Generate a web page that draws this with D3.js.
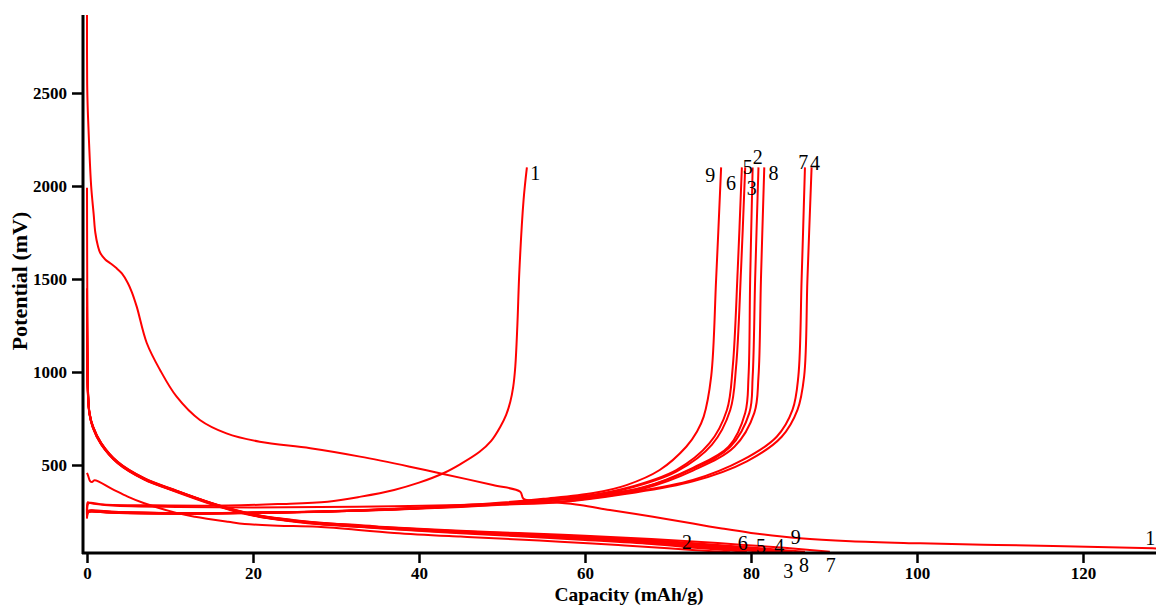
<!DOCTYPE html>
<html>
<head>
<meta charset="utf-8">
<script src="https://cdn.jsdelivr.net/npm/d3@7"></script>
<style>
  html, body { margin: 0; padding: 0; background: #fff; }
  svg { display: block; }
</style>
</head>
<body>
<svg id="chart" width="1156" height="605"></svg>
<script>
// Galvanostatic discharge/charge profiles, cycles 1-9 (capacity in mAh/g, potential in mV)

const xTicks = [0, 20, 40, 60, 80, 100, 120];
const yTicks = [500, 1000, 1500, 2000, 2500];

// ---- discharge curves ----
const d1Cap = [0, 0.02, 0.1, 0.25, 0.5, 0.8, 1.0, 1.3, 1.6, 2.2, 2.8, 3.5, 4.2, 4.9, 5.4, 6.0, 7.2, 8.8, 10.8, 13.6, 16.8, 20.8, 26.9, 32.9, 38.9, 42.9, 48.9, 52.2, 52.6, 55, 59.4, 63, 68.2, 73, 76.3, 80, 85.9, 92, 100.4, 108, 116.4, 128.4, 134];
const d1mV  = [2920, 2550, 2400, 2230, 2000, 1850, 1750, 1680, 1640, 1605, 1585, 1560, 1530, 1480, 1430, 1350, 1156, 1011, 867, 742, 670, 625, 590, 545, 491, 452, 392, 356, 318, 305, 285, 258, 222, 185, 160, 135, 106, 90, 79, 71, 65, 52, 48];

const d2Cap = [0, 0.15, 0.35, 0.6, 0.9, 3, 4.9, 6.9, 11, 13, 17, 19, 23, 27.8, 37, 45, 52, 57, 64, 70, 74, 77.5];
const d2mV  = [457, 440, 415, 408, 418, 372, 330, 294, 240, 222, 195, 183, 174, 168, 135, 115, 100, 88, 70, 52, 40, 31];

const d3Cap = [0, 0.02, 0.06, 0.12, 0.3, 0.72, 1.7, 3.7, 6.9, 10.8, 15, 18, 21, 25, 28, 33, 37, 45, 52, 60, 68, 76, 81, 84.5];
const d3mV  = [1990, 1600, 1200, 903, 780, 706, 617, 515, 427, 360, 294, 254, 224, 200, 187, 172, 160, 141, 126, 110, 88, 62, 45, 32];

const d4Cap = [0, 0.02, 0.06, 0.12, 0.3, 0.72, 1.7, 3.7, 6.9, 10.8, 15, 18, 21, 25, 28, 33, 37, 45, 52, 60, 68, 76, 80, 83.5];
const d4mV  = [1300, 1150, 1000, 880, 775, 700, 612, 511, 423, 357, 291, 251, 221, 198, 185, 170, 158, 139, 124, 107, 85, 58, 44, 32];

const d5Cap = [0, 0.02, 0.06, 0.12, 0.3, 0.72, 1.7, 3.7, 6.9, 10.8, 15, 18, 21, 25, 28, 33, 37, 45, 52, 60, 68, 75, 79, 81.5];
const d5mV  = [1450, 1300, 1100, 890, 778, 703, 615, 513, 425, 358, 292, 252, 222, 197, 183, 168, 156, 136, 121, 102, 80, 55, 42, 32];

const d6Cap = [0, 0.02, 0.06, 0.12, 0.3, 0.72, 1.7, 3.7, 6.9, 10.8, 15, 18, 21, 25, 28, 33, 37, 45, 52, 60, 68, 74, 77.5, 79.5];
const d6mV  = [1200, 1080, 960, 870, 772, 698, 610, 509, 421, 355, 289, 249, 219, 195, 181, 166, 154, 133, 117, 97, 75, 52, 40, 32];

const d7Cap = [0, 0.02, 0.06, 0.12, 0.3, 0.72, 1.7, 3.7, 6.9, 10.8, 15, 18, 21, 25, 28, 33, 37, 45, 52, 60, 68, 76, 84, 89.5];
const d7mV  = [1350, 1200, 1050, 895, 780, 708, 620, 517, 429, 362, 296, 257, 227, 203, 190, 176, 164, 146, 134, 120, 102, 80, 55, 34];

const d8Cap = [0, 0.02, 0.06, 0.12, 0.3, 0.72, 1.7, 3.7, 6.9, 10.8, 15, 18, 21, 25, 28, 33, 37, 45, 52, 60, 68, 76, 82, 86.5];
const d8mV  = [1250, 1120, 990, 885, 778, 706, 618, 516, 428, 361, 295, 256, 226, 202, 189, 174, 162, 144, 131, 115, 95, 70, 50, 33];

const d9Cap = [0, 0.02, 0.06, 0.12, 0.3, 0.72, 1.7, 3.7, 6.9, 10.8, 15, 18, 21, 25, 28, 33, 37, 45, 52, 60, 68, 76, 81.5, 85];
const d9mV  = [1150, 1050, 950, 875, 774, 702, 614, 512, 424, 359, 293, 253, 223, 199, 186, 172, 161, 142, 128, 112, 92, 66, 47, 33];

// ---- charge curves ----
const c1Cap = [0, 0.15, 0.4, 2, 8, 17, 23, 29, 33, 37, 40, 43, 45, 47.3, 48.7, 49.8, 50.5, 51.0, 51.35, 51.6, 51.85, 52.1, 52.6, 53];
const c1mV  = [235, 292, 297, 288, 283, 282, 290, 303, 330, 366, 405, 457, 505, 571, 630, 706, 770, 840, 920, 1028, 1250, 1550, 1925, 2100];

const c2Cap = [0, 0.1, 0.4, 3, 11, 20, 28, 37, 45, 50, 55, 61, 67, 73, 77.5, 79.8, 80.2, 80.5, 80.9];
const c2mV  = [220, 250, 254, 247, 241, 244, 250, 263, 279, 292, 309, 332, 378, 480, 598, 780, 975, 1500, 2100];

const c3Cap = [0, 0.1, 0.4, 3, 11, 20, 28, 37, 45, 50, 55, 61, 67, 73, 77.3, 79.3, 79.7, 79.9, 80.2];
const c3mV  = [218, 248, 252, 246, 240, 243, 249, 262, 278, 291, 310, 335, 380, 485, 598, 780, 975, 1500, 2100];

const c4Cap = [0, 0.1, 0.4, 3, 11, 20, 28, 37, 45, 50, 57, 65, 73, 79.5, 83.7, 85.6, 86.4, 86.8, 87.3];
const c4mV  = [225, 252, 256, 249, 242, 244, 249, 260, 274, 286, 300, 345, 412, 520, 652, 796, 975, 1500, 2100];

const c5Cap = [0, 0.1, 0.4, 3, 11, 20, 28, 37, 45, 50, 55, 61, 65, 71, 75.3, 77.5, 78.2, 78.8, 79.3];
const c5mV  = [216, 247, 251, 245, 239, 242, 248, 262, 279, 293, 312, 338, 372, 465, 610, 796, 1028, 1550, 2100];

const c6Cap = [0, 0.1, 0.4, 3, 11, 20, 28, 37, 45, 50, 55, 61, 65, 71, 75, 77.1, 77.8, 78.4, 78.9];
const c6mV  = [214, 246, 250, 244, 238, 242, 248, 263, 280, 294, 314, 340, 376, 473, 617, 796, 1028, 1550, 2100];

const c7Cap = [0, 0.1, 0.4, 3, 11, 20, 28, 37, 45, 50, 57, 65, 73, 79, 83.1, 85, 85.7, 86.1, 86.5];
const c7mV  = [228, 300, 295, 282, 274, 272, 274, 278, 285, 292, 303, 349, 419, 527, 652, 796, 975, 1500, 2100];

const c8Cap = [0, 0.1, 0.4, 3, 11, 20, 28, 37, 45, 50, 55, 61, 67, 73, 78, 80.4, 80.9, 81.2, 81.6];
const c8mV  = [222, 251, 255, 248, 241, 244, 249, 261, 277, 289, 306, 328, 372, 470, 598, 780, 975, 1500, 2100];

const c9Cap = [0, 0.1, 0.4, 3, 11, 20, 28, 37, 45, 50, 55, 61, 65, 69, 72.2, 73.5, 74.3, 75.2, 75.8, 76.4];
const c9mV  = [212, 245, 249, 243, 238, 243, 250, 265, 283, 298, 318, 349, 392, 473, 598, 680, 760, 975, 1500, 2100];

// Cycle number annotations (capacity, potential of the text centre)
const labelCycles = ["1", "9", "6", "5", "2", "3", "8", "7", "4", "2", "6", "5", "4", "9", "3", "8", "7", "1"];
const labelCap    = [54.0, 75.1, 77.6, 79.6, 80.8, 80.1, 82.7, 86.3, 87.7, 72.3, 79.0, 81.2, 83.4, 85.4, 84.5, 86.4, 89.6, 128.1];
const labelmV     = [2070, 2059, 2016, 2102, 2156, 1989, 2070, 2129, 2124, 86, 80, 64, 64, 113, -70, -38, -38, 107];

const series = [
  [d1Cap, d1mV], [d2Cap, d2mV], [d3Cap, d3mV], [d4Cap, d4mV], [d5Cap, d5mV],
  [d6Cap, d6mV], [d7Cap, d7mV], [d8Cap, d8mV], [d9Cap, d9mV],
  [c1Cap, c1mV], [c2Cap, c2mV], [c3Cap, c3mV], [c4Cap, c4mV], [c5Cap, c5mV],
  [c6Cap, c6mV], [c7Cap, c7mV], [c8Cap, c8mV], [c9Cap, c9mV]
];

const svg = d3.select("#chart");
const serif = "'Liberation Serif', 'Times New Roman', serif";

const x = d3.scaleLinear().domain([0, 120]).range([87, 1083]);
const y = d3.scaleLinear().domain([0, 2500]).range([558, 93]);

const plotLeft = 83, plotRight = 1156, plotTop = 15, plotBottom = 553;

svg.append("defs").append("clipPath").attr("id", "plot")
  .append("rect")
  .attr("x", plotLeft).attr("y", plotTop - 2)
  .attr("width", plotRight - plotLeft).attr("height", plotBottom - plotTop + 2);

const line = d3.line()
  .x(d => x(d[0]))
  .y(d => y(d[1]))
  .curve(d3.curveCatmullRom.alpha(0.5));

svg.append("g").attr("clip-path", "url(#plot)")
  .selectAll("path")
  .data(series.map(([c, v]) => c.map((cap, i) => [cap, v[i]])))
  .join("path")
  .attr("d", line)
  .attr("fill", "none")
  .attr("stroke", "#ff0000")
  .attr("stroke-width", 2)
  .attr("stroke-linejoin", "round");

// Axes
const yAxis = d3.axisLeft(y).tickValues(yTicks).tickSize(11).tickPadding(5).tickFormat(d3.format("d"));
const gy = svg.append("g").attr("transform", `translate(${plotLeft},0)`).call(yAxis);
gy.select(".domain").remove();
gy.selectAll(".tick line").attr("stroke", "#000").attr("stroke-width", 2.5);
gy.selectAll(".tick text").attr("font-family", serif).attr("font-weight", "bold")
  .attr("font-size", 17).attr("fill", "#000");

const xAxis = d3.axisBottom(x).tickValues(xTicks).tickSize(10).tickPadding(4).tickFormat(d3.format("d"));
const gx = svg.append("g").attr("transform", `translate(0,${plotBottom})`).call(xAxis);
gx.select(".domain").remove();
gx.selectAll(".tick line").attr("stroke", "#000").attr("stroke-width", 2.5);
gx.selectAll(".tick text").attr("font-family", serif).attr("font-weight", "bold")
  .attr("font-size", 17).attr("fill", "#000");

svg.append("line")
  .attr("x1", plotLeft).attr("x2", plotLeft)
  .attr("y1", plotTop).attr("y2", plotBottom + 1)
  .attr("stroke", "#000").attr("stroke-width", 3);
svg.append("line")
  .attr("x1", plotLeft - 1).attr("x2", plotRight)
  .attr("y1", plotBottom).attr("y2", plotBottom)
  .attr("stroke", "#000").attr("stroke-width", 3);

// Axis titles
svg.append("text")
  .attr("x", 629).attr("y", 600.5)
  .attr("text-anchor", "middle")
  .attr("font-family", serif).attr("font-weight", "bold").attr("font-size", 19.5)
  .text("Capacity (mAh/g)");

svg.append("text")
  .attr("transform", "translate(27,281) rotate(-90)")
  .attr("text-anchor", "middle")
  .attr("font-family", serif).attr("font-weight", "bold").attr("font-size", 22)
  .text("Potential (mV)");

// Cycle labels
svg.append("g")
  .selectAll("text")
  .data(labelCycles.map((t, i) => ({ t, cap: labelCap[i], mv: labelmV[i] })))
  .join("text")
  .attr("x", d => x(d.cap))
  .attr("y", d => y(d.mv))
  .attr("text-anchor", "middle")
  .attr("dominant-baseline", "central")
  .attr("font-family", serif).attr("font-size", 20).attr("fill", "#000")
  .text(d => d.t);
</script>
</body>
</html>
